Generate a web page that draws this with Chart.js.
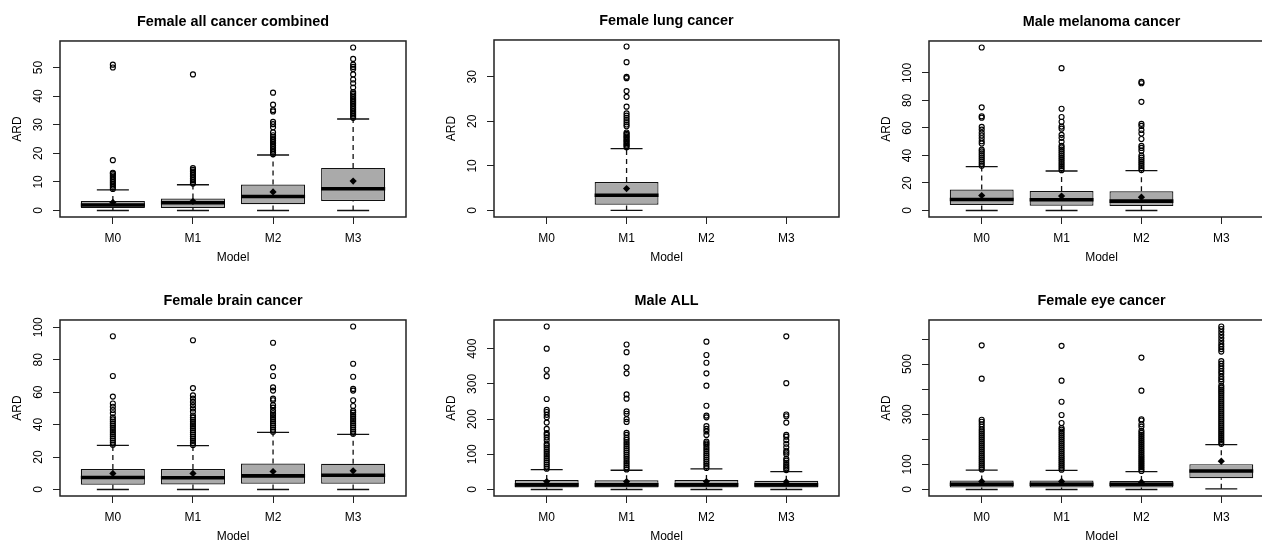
<!DOCTYPE html>
<html>
<head>
<meta charset="utf-8">
<script src="https://cdn.jsdelivr.net/npm/chart.js@4/dist/chart.umd.min.js"></script>
<style>
  html, body { margin: 0; padding: 0; background: #fff; }
  #wrap { position: relative; width: 1262px; height: 543px; overflow: hidden; }
</style>
</head>
<body>
<div id="wrap"></div>
<script>
const models = ['M0', 'M1', 'M2', 'M3'];
const titles = ['Female all cancer combined', 'Female lung cancer', 'Male melanoma cancer',
  'Female brain cancer', 'Male ALL', 'Female eye cancer'];

// box stats: one row per panel, one value per model (null = no box)
const q1 = [
  [0.9, 0.9, 2.2, 3.3],
  [null, 1.3, null, null],
  [3.9, 3.4, 3.2, null],
  [2.9, 3.1, 3.5, 3.5],
  [5.7, 5.7, 5.7, 5.7],
  [8, 8, 8, 45]
];
const med = [
  [1.9, 2.7, 4.9, 7.6],
  [null, 3.4, null, null],
  [8.0, 7.8, 6.8, null],
  [7.4, 7.2, 8.4, 8.8],
  [13, 13, 13, 13],
  [21, 21, 21, 74]
];
const q3 = [
  [3.3, 4.2, 9.1, 14.9],
  [null, 6.4, null, null],
  [15.3, 14.1, 13.9, null],
  [12.6, 12.6, 16.0, 15.8],
  [27, 26, 27, 25],
  [36, 36, 34, 101]
];
const lo = [
  [0, 0, 0, 0],
  [null, 0, null, null],
  [0, 0, 0, null],
  [0, 0, 0, 0],
  [0, 0, 0, 0],
  [0, 0, 0, 2.6]
];
const hi = [
  [7.2, 9.0, 19.4, 32.0],
  [null, 13.9, null, null],
  [31.9, 28.7, 29.0, null],
  [27.2, 27.0, 35.2, 34.0],
  [56.6, 54.7, 58.5, 51],
  [77, 76, 71.6, 179]
];
const mean = [
  [2.8, 3.2, 6.5, 10.3],
  [null, 4.9, null, null],
  [10.9, 10.5, 9.7, null],
  [9.9, 9.9, 11.1, 11.5],
  [22.6, 22.6, 22.6, 21.7],
  [32, 32, 29, 113]
];

// outliers, per panel, per model
const outAllCancer = [
  [7.5, 8.1, 8.7, 9.3, 9.9, 10.5, 11.1, 11.7, 12.3, 12.9, 13.2, 17.6, 50.0, 51.0],
  [9.4, 10.0, 10.6, 11.2, 11.8, 12.4, 13.0, 13.6, 14.2, 14.8, 47.6],
  [19.7, 20.3, 20.9, 21.5, 22.1, 22.7, 23.3, 23.9, 24.5, 25.1, 25.7, 26.3, 27.3, 29.1, 30.2, 31.0, 34.6, 35.1, 37.0, 41.2],
  [32.4, 33.0, 33.6, 34.2, 34.8, 35.4, 36.0, 36.6, 37.2, 37.8, 38.4, 39.0, 39.6, 40.2, 40.8, 41.4, 43.0, 44.5, 45.8, 47.6, 49.5, 50.2, 51.0, 53.0, 57.0]
];
const outLung = [
  [],
  [14.2, 14.5, 14.8, 15.1, 15.4, 15.7, 16.0, 16.3, 16.6, 16.9, 17.2, 17.5, 18.9, 19.3, 19.8, 20.3, 20.8, 21.3, 21.8, 23.3, 25.5, 26.8, 29.7, 30.0, 33.3, 36.8],
  [],
  []
];
const outMelanoma = [
  [32.5, 34, 35.5, 37, 38.5, 40, 41.5, 43, 44.3, 48.7, 50.3, 52.5, 54.5, 56.5, 58.8, 60.8, 67.5, 68.5, 75, 118.5],
  [29.3, 30.8, 32.3, 33.8, 35.3, 36.8, 38.3, 39.8, 41.3, 42.8, 44.3, 45.8, 47.0, 50.0, 52.8, 55.0, 59.5, 61.0, 64.5, 68.0, 74.0, 103.5],
  [29.4, 30.9, 32.4, 33.9, 35.4, 36.9, 38.4, 39.9, 43.5, 45.5, 47.0, 52.0, 56.0, 58.5, 61.5, 63.0, 79.0, 92.5, 93.5],
  []
];
const outBrain = [
  [27.6, 28.9, 30.2, 31.5, 32.8, 34.1, 35.4, 36.7, 38.0, 39.3, 40.6, 41.9, 43.2, 44.5, 47.0, 49.0, 51.0, 53.0, 57.3, 70.0, 94.5],
  [27.4, 28.7, 30.0, 31.3, 32.6, 33.9, 35.2, 36.5, 37.8, 39.1, 40.4, 41.7, 43.0, 44.3, 45.6, 48.0, 50.0, 52.0, 54.0, 56.0, 58.0, 62.5, 92.0],
  [35.6, 36.9, 38.2, 39.5, 40.8, 42.1, 43.4, 44.7, 46.0, 47.0, 48.5, 50.5, 52.0, 55.0, 56.0, 61.0, 63.0, 70.0, 75.3, 90.5],
  [34.4, 35.7, 37.0, 38.3, 39.6, 40.9, 42.2, 43.5, 44.8, 46.1, 47.4, 48.5, 51.5, 55.0, 61.0, 62.0, 69.5, 77.5, 100.5]
];
const outMaleAll = [
  [59, 65, 71, 77, 83, 89, 95, 101, 107, 113, 119, 125, 130, 140, 148, 155, 160, 172, 190, 205, 212, 220, 226, 257, 322, 340, 400, 463],
  [57, 63, 69, 75, 81, 87, 93, 99, 105, 111, 117, 123, 129, 135, 141, 147, 155, 161, 192, 200, 215, 222, 258, 270, 330, 347, 390, 412],
  [61, 67, 73, 79, 85, 91, 97, 103, 109, 115, 121, 127, 131, 136, 155, 165, 172, 180, 205, 210, 238, 295, 330, 360, 382, 420],
  [55, 60, 65, 70, 76, 82, 87, 100, 105, 110, 120, 130, 140, 150, 155, 190, 208, 213, 302, 435]
];
const outEye = [
  [80, 88, 96, 104, 112, 120, 128, 136, 144, 152, 160, 168, 176, 184, 192, 200, 208, 216, 224, 232, 240, 250, 260, 270, 278, 442, 575],
  [79, 87, 95, 103, 111, 119, 127, 135, 143, 151, 159, 167, 175, 183, 191, 199, 207, 215, 223, 231, 239, 245, 265, 297, 350, 434, 573],
  [74, 82, 90, 98, 106, 114, 122, 130, 138, 146, 154, 162, 170, 178, 186, 194, 202, 210, 218, 226, 234, 250, 260, 275, 280, 394, 526],
  [182, 190, 198, 206, 214, 222, 230, 238, 246, 254, 262, 270, 278, 286, 294, 302, 310, 318, 326, 334, 342, 350, 358, 366,
   374, 382, 390, 398, 406, 414, 430, 440, 450, 462, 472, 482, 492, 502, 512, 550, 560, 570, 580, 592, 604, 616, 628, 640, 650]
];
const outliers = [outAllCancer, outLung, outMelanoma, outBrain, outMaleAll, outEye];

const yTicks = [
  [0, 10, 20, 30, 40, 50],
  [0, 10, 20, 30],
  [0, 20, 40, 60, 80, 100],
  [0, 20, 40, 60, 80, 100],
  [0, 100, 200, 300, 400],
  [0, 100, 200, 300, 400, 500, 600]
];
const yTickLabels = [
  ['0', '10', '20', '30', '40', '50'],
  ['0', '10', '20', '30'],
  ['0', '20', '40', '60', '80', '100'],
  ['0', '20', '40', '60', '80', '100'],
  ['0', '100', '200', '300', '400'],
  ['0', '100', '', '300', '', '500', '']
];

// plot regions on the page
const plotBoxes = [
  {left: 60, top: 41, w: 346, h: 176},
  {left: 494, top: 40, w: 345, h: 177},
  {left: 929, top: 41, w: 345, h: 176},
  {left: 60, top: 320, w: 346, h: 176},
  {left: 494, top: 320, w: 345, h: 176},
  {left: 929, top: 320, w: 345, h: 176}
];

Chart.defaults.font.family = '"Liberation Sans", Arial, Helvetica, sans-serif';
Chart.defaults.color = '#000';

const framePlugin = {
  id: 'frame',
  afterDatasetsDraw(chart) {
    const {ctx, chartArea: a} = chart;
    ctx.save();
    ctx.strokeStyle = '#222';
    ctx.lineWidth = 1.5;
    ctx.strokeRect(a.left, a.top, a.right - a.left, a.bottom - a.top);
    ctx.restore();
  }
};

const measure = document.createElement('canvas').getContext('2d');
measure.font = '12px "Liberation Sans", Arial, sans-serif';

const wrap = document.getElementById('wrap');

function makeChart(i) {
  const box = plotBoxes[i];
  const W = box.w + 70, H = box.h + 91;
  const canvas = document.createElement('canvas');
  canvas.width = W;
  canvas.height = H;
  canvas.style.cssText = `position:absolute;left:${box.left - 60}px;top:${box.top - 41}px;width:${W}px;height:${H}px`;
  wrap.appendChild(canvas);

  const boxes = [], medians = [], whiskers = [], caps = [], means = [], outs = [];
  let maxV = 0, minV = 0;
  for (let k = 0; k < models.length; k++) {
    if (q1[i][k] === null) continue;
    const x = k + 1;
    boxes.push({x, y: [q1[i][k], q3[i][k]]});
    medians.push({x: x - 0.4, y: med[i][k]}, {x: x + 0.4, y: med[i][k]}, {x, y: null});
    whiskers.push({x, y: q3[i][k]}, {x, y: hi[i][k]}, {x, y: null},
                  {x, y: lo[i][k]}, {x, y: q1[i][k]}, {x, y: null});
    caps.push({x: x - 0.2, y: hi[i][k]}, {x: x + 0.2, y: hi[i][k]}, {x, y: null},
              {x: x - 0.2, y: lo[i][k]}, {x: x + 0.2, y: lo[i][k]}, {x, y: null});
    means.push({x, y: mean[i][k]});
    outliers[i][k].forEach(v => outs.push({x, y: v}));
    maxV = Math.max(maxV, hi[i][k], ...outliers[i][k]);
    minV = Math.min(minV, lo[i][k]);
  }
  // R style axis range: data range plus 4% on each side
  const ext = 0.04 * (maxV - minV);
  const widest = Math.max(...yTickLabels[i].map(t => measure.measureText(t).width));

  return new Chart(canvas, {
    type: 'bar',
    data: {
      datasets: [
        {type: 'scatter', data: means, pointStyle: 'rectRot', pointRadius: 3.6,
         backgroundColor: '#000', borderColor: '#000', borderWidth: 0},
        {type: 'scatter', data: outs, pointStyle: 'circle', pointRadius: 2.5,
         backgroundColor: 'rgba(0,0,0,0)', borderColor: '#000', borderWidth: 1.15},
        {type: 'line', data: medians, borderColor: '#000', borderWidth: 3.6,
         pointRadius: 0, borderCapStyle: 'butt'},
        {type: 'bar', data: boxes, backgroundColor: '#aaaaaa', borderColor: '#111',
         borderWidth: 1.2, borderSkipped: false, barPercentage: 0.8, categoryPercentage: 1},
        {type: 'line', data: caps, borderColor: '#111', borderWidth: 1.3, pointRadius: 0},
        {type: 'line', data: whiskers, borderColor: '#111', borderWidth: 1.3,
         borderDash: [5, 4], pointRadius: 0}
      ]
    },
    options: {
      responsive: false,
      animation: false,
      events: [],
      layout: {padding: {left: 0, top: 0, right: 10, bottom: 0}},
      plugins: {
        legend: {display: false},
        tooltip: {enabled: false},
        title: {
          display: true, text: titles[i], fullSize: false, color: '#000',
          font: {size: 14.4, weight: 'bold'},
          padding: {top: 13.4, bottom: 10.3}
        }
      },
      scales: {
        x: {
          type: 'linear', min: 0.34, max: 4.66, offset: false,
          afterBuildTicks: s => { s.ticks = models.map((m, k) => ({value: k + 1})); },
          ticks: {callback: v => models[v - 1], font: {size: 12}, padding: 7.8,
                  autoSkip: false, maxRotation: 0},
          grid: {offset: false, drawOnChartArea: false, drawTicks: true, tickLength: 7, color: '#222'},
          border: {display: false},
          title: {display: true, text: 'Model', font: {size: 12}, padding: {top: 0, bottom: 1.8}},
          afterFit: s => { s.height = 50; }
        },
        y: {
          type: 'linear', min: minV - ext, max: maxV + ext,
          afterBuildTicks: s => { s.ticks = yTicks[i].map(v => ({value: v})); },
          ticks: {callback: (v, k) => yTickLabels[i][k], font: {size: 12},
                  minRotation: 90, maxRotation: 90, crossAlign: 'center',
                  padding: 14 - widest / 2, autoSkip: false},
          grid: {drawOnChartArea: false, drawTicks: true, tickLength: 7, color: '#222'},
          border: {display: false},
          title: {display: true, text: 'ARD', font: {size: 12}, padding: {top: 10.8, bottom: 0}},
          afterFit: s => { s.width = 60; }
        }
      }
    },
    plugins: [framePlugin]
  });
}

for (let i = 0; i < titles.length; i++) makeChart(i);
</script>
</body>
</html>
